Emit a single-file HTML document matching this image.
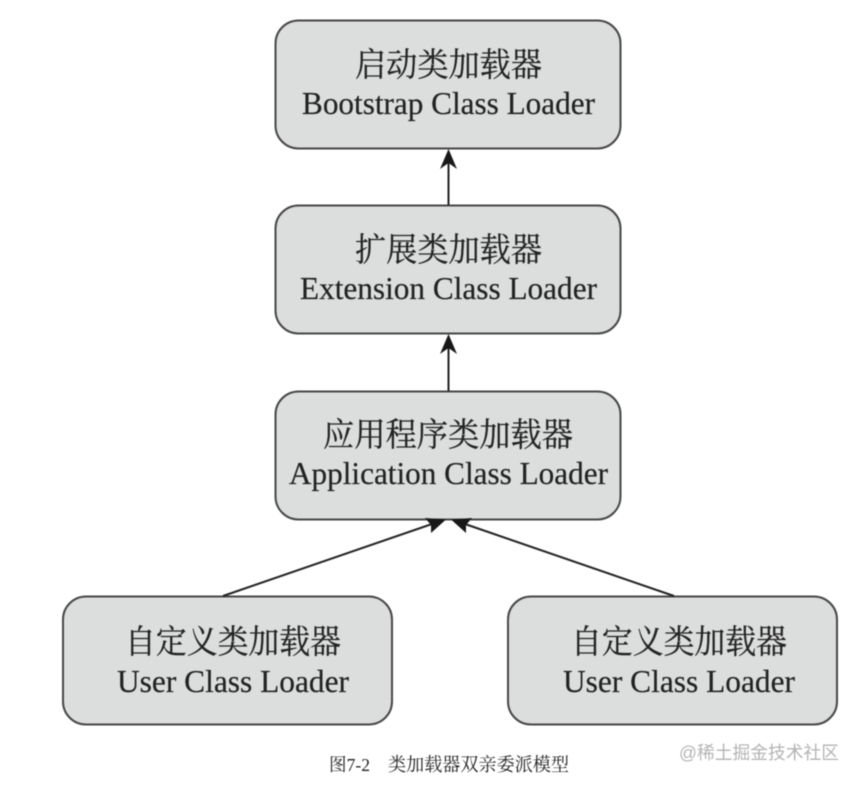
<!DOCTYPE html>
<html>
<head>
<meta charset="utf-8">
<style>
html,body{margin:0;padding:0;background:#fff;width:862px;height:785px;overflow:hidden}
svg{display:block;filter:blur(.45px)}
.c{font-family:"Liberation Serif","Noto Serif CJK SC",serif;font-size:33px;fill:#222;stroke:#222;stroke-width:.25}
.e{font-family:"Liberation Serif","Noto Serif CJK SC",serif;font-size:31.5px;fill:#222;stroke:#222;stroke-width:.2}
.b{fill:#dcdedd;stroke:#474747;stroke-width:2}
.l{stroke:#222;stroke-width:2;fill:none}
.a{fill:#181818}
</style>
</head>
<body>
<svg width="862" height="785" viewBox="0 0 862 785" xmlns="http://www.w3.org/2000/svg">
<rect width="862" height="785" fill="#fff"/>

<rect class="b" x="275.5" y="20.5" width="345" height="128" rx="23"/>
<text class="c" x="355" y="76" textLength="187" lengthAdjust="spacingAndGlyphs">启动类加载器</text>
<text class="e" x="302" y="114" textLength="293" lengthAdjust="spacingAndGlyphs">Bootstrap Class Loader</text>

<rect class="b" x="275.5" y="205.5" width="345" height="128" rx="23"/>
<text class="c" x="355" y="261" textLength="187" lengthAdjust="spacingAndGlyphs">扩展类加载器</text>
<text class="e" x="300" y="299" textLength="297" lengthAdjust="spacingAndGlyphs">Extension Class Loader</text>

<rect class="b" x="275.5" y="391.5" width="345" height="128" rx="23"/>
<text class="c" x="323" y="446" textLength="250" lengthAdjust="spacingAndGlyphs">应用程序类加载器</text>
<text class="e" x="289" y="484" textLength="319" lengthAdjust="spacingAndGlyphs">Application Class Loader</text>

<rect class="b" x="63" y="596.5" width="329" height="128" rx="23"/>
<text class="c" x="125" y="653" textLength="216" lengthAdjust="spacingAndGlyphs">自定义类加载器</text>
<text class="e" x="117" y="692" textLength="232" lengthAdjust="spacingAndGlyphs">User Class Loader</text>

<rect class="b" x="508" y="596.5" width="329" height="128" rx="23"/>
<text class="c" x="571" y="653" textLength="216" lengthAdjust="spacingAndGlyphs">自定义类加载器</text>
<text class="e" x="563" y="692" textLength="232" lengthAdjust="spacingAndGlyphs">User Class Loader</text>

<line class="l" x1="448.5" y1="205" x2="448.5" y2="160"/>
<polygon class="a" points="448.5,149 457,169 448.5,163 440,169"/>

<line class="l" x1="448.5" y1="391" x2="448.5" y2="345"/>
<polygon class="a" points="448.5,334 457,354 448.5,348 440,354"/>

<line class="l" x1="223" y1="596" x2="432" y2="524"/>
<polygon class="a" points="446,519.5 431,533 431,525 425,518"/>

<line class="l" x1="674" y1="596" x2="465" y2="524"/>
<polygon class="a" points="451,519.5 466,533 466,525 472,518"/>

<text x="329" y="771" font-family="'Liberation Serif','Noto Serif CJK SC',serif" font-size="18" fill="#222" textLength="41" lengthAdjust="spacingAndGlyphs">图7-2</text>
<text x="388" y="771" font-family="'Liberation Serif','Noto Serif CJK SC',serif" font-size="18.5" fill="#222" textLength="181" lengthAdjust="spacingAndGlyphs">类加载器双亲委派模型</text>
<text x="679" y="759" font-family="'Liberation Sans','Noto Sans CJK SC',sans-serif" font-size="18" fill="#b4b4b4" textLength="160" lengthAdjust="spacingAndGlyphs">@稀土掘金技术社区</text>
</svg>
</body>
</html>
